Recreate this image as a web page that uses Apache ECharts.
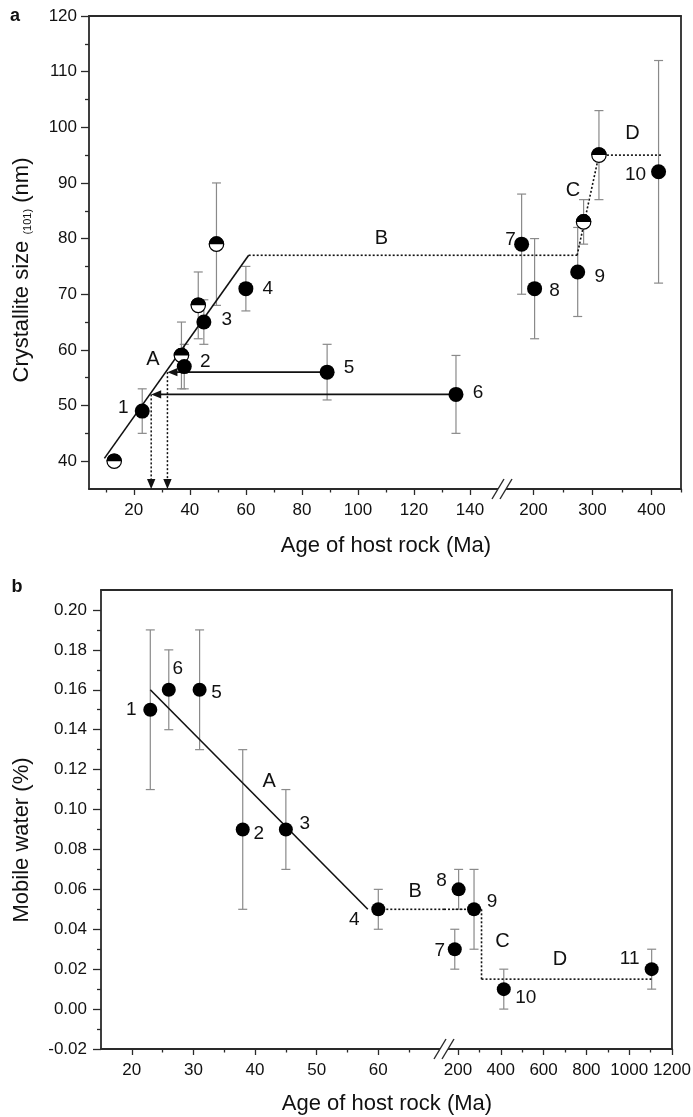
<!DOCTYPE html>
<html>
<head>
<meta charset="utf-8">
<script src="https://cdn.jsdelivr.net/npm/echarts@6/dist/echarts.min.js"></script>
<style>
html,body{margin:0;padding:0;background:#fff;}
#c{width:693px;height:1117px;}
</style>
</head>
<body>
<div id="c"></div>
<script>
// ---------------- Panel a : crystallite size ----------------
const aLabels = ['1', '2', '3', '4', '5', '6', '7', '8', '9', '10'];
const aAge    = [23, 38, 45, 60, 89, 135, 180, 202, 275, 412];
const aSize   = [49, 57, 65, 71, 56, 52, 79, 71, 74, 92];
const aErr    = [4, 4, 4, 4, 5, 7, 9, 9, 8, 20];
const aHalfAge  = [13, 37, 43, 49.5, 285, 311];
const aHalfSize = [40, 59, 68, 79, 83, 95];
const aHalfErr  = [0, 6, 6, 11, 4, 8];
const aTrendA = [[9.5, 40.5], [61, 77]];
const aTrendB = [[61, 77], [274, 77]];
const aTrendC = [[274, 77], [311, 95]];
const aTrendD = [[311, 95], [418, 95]];
const aArrowFrom = [[89, 56], [135, 52]];
const aArrowTip  = [[32, 56], [26.2, 52]];
const aDropTo    = [[32, 35], [26.2, 35]];
const aZoneNames = ['A', 'B', 'C', 'D'];
const aZoneAt    = [[26.8, 58.2], [108.4, 80], [267, 88.6], [367.7, 98.8]];
const aYTicks  = [40, 50, 60, 70, 80, 90, 100, 110, 120];
const aYMinor  = [45, 55, 65, 75, 85, 95, 105, 115];
const aXTicksL = [20, 40, 60, 80, 100, 120, 140];
const aXMinorL = [10, 30, 50, 70, 90, 110, 130];
const aXTicksR = [200, 300, 400];
const aXMinorR = [250, 350, 450];

// ---------------- Panel b : mobile water ----------------
const bLabels = ['1', '6', '5', '2', '3', '4', '7', '8', '9', '10', '11'];
const bAge    = [23, 26, 31, 38, 45, 60, 185, 203, 275, 414, 1105];
const bWater  = [0.15, 0.16, 0.16, 0.09, 0.09, 0.05, 0.03, 0.06, 0.05, 0.01, 0.02];
const bErr    = [0.04, 0.02, 0.03, 0.04, 0.02, 0.01, 0.01, 0.01, 0.02, 0.01, 0.01];
const bTrendA = [[23, 0.16], [58.3, 0.05]];
const bTrendB = [[60, 0.05], [310, 0.05]];
const bTrendC = [[310, 0.05], [310, 0.015]];
const bTrendD = [[310, 0.015], [1104, 0.015]];
const bZoneNames = ['A', 'B', 'C', 'D'];
const bZoneAt    = [[42.3, 0.114], [66, 0.059], [408, 0.034], [676.6, 0.025]];
const bYTicks  = [-0.02, 0, 0.02, 0.04, 0.06, 0.08, 0.10, 0.12, 0.14, 0.16, 0.18, 0.20];
const bYMinor  = [-0.01, 0.01, 0.03, 0.05, 0.07, 0.09, 0.11, 0.13, 0.15, 0.17, 0.19];
const bXTicksL = [20, 30, 40, 50, 60];
const bXMinorL = [25, 35, 45, 55, 65];
const bXTicksR = [200, 400, 600, 800, 1000, 1200];
const bXMinorR = [300, 500, 700, 900, 1100];

// ---------------- styling ----------------
const FONT = 'Liberation Sans, Arial, Helvetica, sans-serif';
const INK = '#111111';
const FRAME = '#2a2a2a';
const ERRC = '#8a8a8a';

const aOffs = {'1': [-19, -3], '2': [21, -5], '3': [23, -2], '4': [22, 0], '5': [22, -4], '6': [22, -2],
               '7': [-11, -4], '8': [20, 2], '9': [22, 5], '10': [-23, 3]};
const bOffs = {'1': [-19, 0], '6': [9, -21], '5': [17, 3], '2': [16, 4], '3': [19, -6], '4': [-24, 10],
               '7': [-15, 2], '8': [-17, -9], '9': [18, -8], '10': [22, 9], '11': [-22, -10]};

const grids = [
  {left: 89,  top: 16,  width: 409, height: 473},
  {left: 498, top: 16,  width: 183, height: 473},
  {left: 101, top: 590, width: 342, height: 459},
  {left: 443, top: 590, width: 229, height: 459}
];

const panels = [
  {
    ages: aAge, vals: aSize, errs: aErr, labels: aLabels, offs: aOffs,
    halfAges: aHalfAge, halfVals: aHalfSize, halfErrs: aHalfErr,
    trends: [{pts: aTrendA, dotted: false}, {pts: aTrendB, dotted: true},
             {pts: aTrendC, dotted: true}, {pts: aTrendD, dotted: true}],
    arrows: aArrowFrom.map((f, i) => [f[0], f[1], aArrowTip[i][0], aArrowTip[i][1], 0])
      .concat(aArrowTip.map((t, i) => [t[0], t[1], aDropTo[i][0], aDropTo[i][1], 1])),
    zones: aZoneNames, zoneAt: aZoneAt,
    yMin: 35, yMax: 120, yTicks: aYTicks, yMinor: aYMinor, yMargin: 12,
    yFmt: v => String(v), dot: 15,
    segs: [
      {grid: 0, min: 4, max: 150, ticks: aXTicksL, minor: aXMinorL},
      {grid: 1, min: 140, max: 450, ticks: aXTicksR, minor: aXMinorR}
    ]
  },
  {
    ages: bAge, vals: bWater, errs: bErr, labels: bLabels, offs: bOffs,
    halfAges: [], halfVals: [], halfErrs: [],
    trends: [{pts: bTrendA, dotted: false}, {pts: bTrendB, dotted: true},
             {pts: bTrendC, dotted: true}, {pts: bTrendD, dotted: true}],
    arrows: [],
    zones: bZoneNames, zoneAt: bZoneAt,
    yMin: -0.02, yMax: 0.21, yTicks: bYTicks, yMinor: bYMinor, yMargin: 14,
    yFmt: v => Number(v).toFixed(2), dot: 14,
    segs: [
      {grid: 2, min: 15, max: 70.5, ticks: bXTicksL, minor: bXMinorL},
      {grid: 3, min: 130, max: 1200, ticks: bXTicksR, minor: bXMinorR}
    ]
  }
];

function errRender(params, api) {
  const x = api.value(0), lo = api.value(1), hi = api.value(2);
  const p1 = api.coord([x, hi]), p2 = api.coord([x, lo]);
  const w = 4.5;
  const st = {stroke: ERRC, lineWidth: 1.2, fill: null};
  return {type: 'group', children: [
    {type: 'line', shape: {x1: p1[0], y1: p1[1], x2: p2[0], y2: p2[1]}, style: st},
    {type: 'line', shape: {x1: p1[0] - w, y1: p1[1], x2: p1[0] + w, y2: p1[1]}, style: st},
    {type: 'line', shape: {x1: p2[0] - w, y1: p2[1], x2: p2[0] + w, y2: p2[1]}, style: st}
  ]};
}

function halfRender(params, api) {
  const p = api.coord([api.value(0), api.value(1)]);
  const r = 7.2;
  return {type: 'group', children: [
    {type: 'circle', shape: {cx: p[0], cy: p[1], r: r}, style: {fill: '#fff', stroke: '#000', lineWidth: 1.2}},
    {type: 'sector', shape: {cx: p[0], cy: p[1], r0: 0, r: r + 0.6, startAngle: Math.PI, endAngle: 2 * Math.PI, clockwise: true},
     style: {fill: '#000'}}
  ]};
}

function arrowRender(params, api) {
  const p1 = api.coord([api.value(0), api.value(1)]);
  const p2 = api.coord([api.value(2), api.value(3)]);
  const dotted = api.value(4) === 1;
  const dx = p2[0] - p1[0], dy = p2[1] - p1[1];
  const len = Math.sqrt(dx * dx + dy * dy) || 1;
  const ux = dx / len, uy = dy / len;
  const L = 10, W = 4.2;
  const bx = p2[0] - ux * L, by = p2[1] - uy * L;
  return {type: 'group', children: [
    {type: 'line', shape: {x1: p1[0], y1: p1[1], x2: bx + ux * 2, y2: by + uy * 2},
     style: {stroke: INK, lineWidth: dotted ? 1.5 : 1.6, lineDash: dotted ? [2, 2] : null, fill: null}},
    {type: 'polygon', shape: {points: [[p2[0], p2[1]], [bx - uy * W, by + ux * W], [bx + uy * W, by - ux * W]]},
     style: {fill: INK}}
  ]};
}

function buildOption() {
  const xAxis = [], yAxis = [], series = [];
  const lineSt = {color: FRAME, width: 1.8};
  const tickSt = {color: FRAME, width: 1.3};
  const lab = {fontSize: 17, fontFamily: FONT, color: INK, hideOverlap: false};

  panels.forEach(P => {
    P.segs.forEach((S, si) => {
      const g = S.grid;
      const xi = xAxis.length;
      xAxis.push({type: 'value', gridIndex: g, position: 'bottom', min: S.min, max: S.max,
        axisLine: {show: true, onZero: false, lineStyle: lineSt},
        axisTick: {show: true, inside: false, length: 6, customValues: S.ticks, lineStyle: tickSt},
        axisLabel: Object.assign({show: true, customValues: S.ticks, margin: 13, formatter: v => String(v)}, lab),
        splitLine: {show: false}});
      xAxis.push({type: 'value', gridIndex: g, position: 'bottom', min: S.min, max: S.max,
        axisLine: {show: false, onZero: false},
        axisTick: {show: true, inside: false, length: 3.5, customValues: S.minor, lineStyle: tickSt},
        axisLabel: {show: false}, splitLine: {show: false}});
      xAxis.push({type: 'value', gridIndex: g, position: 'top', min: S.min, max: S.max,
        axisLine: {show: true, onZero: false, lineStyle: lineSt},
        axisTick: {show: false}, axisLabel: {show: false}, splitLine: {show: false}});

      const yi = yAxis.length;
      if (si === 0) {
        yAxis.push({type: 'value', gridIndex: g, position: 'left', min: P.yMin, max: P.yMax,
          axisLine: {show: true, onZero: false, lineStyle: lineSt},
          axisTick: {show: true, inside: false, length: 8, customValues: P.yTicks, lineStyle: tickSt},
          axisLabel: Object.assign({show: true, customValues: P.yTicks, margin: P.yMargin, formatter: P.yFmt}, lab),
          splitLine: {show: false}});
        yAxis.push({type: 'value', gridIndex: g, position: 'left', min: P.yMin, max: P.yMax,
          axisLine: {show: false, onZero: false},
          axisTick: {show: true, inside: false, length: 4, customValues: P.yMinor, lineStyle: tickSt},
          axisLabel: {show: false}, splitLine: {show: false}});
      } else {
        yAxis.push({type: 'value', gridIndex: g, position: 'right', min: P.yMin, max: P.yMax,
          axisLine: {show: true, onZero: false, lineStyle: lineSt},
          axisTick: {show: false}, axisLabel: {show: false}, splitLine: {show: false}});
      }

      const inSeg = a => a >= S.min && a <= S.max;

      // error bars
      const errData = [];
      P.ages.forEach((a, i) => { if (inSeg(a) && P.errs[i] > 0) errData.push([a, P.vals[i] - P.errs[i], P.vals[i] + P.errs[i]]); });
      P.halfAges.forEach((a, i) => { if (inSeg(a) && P.halfErrs[i] > 0) errData.push([a, P.halfVals[i] - P.halfErrs[i], P.halfVals[i] + P.halfErrs[i]]); });
      series.push({type: 'custom', xAxisIndex: xi, yAxisIndex: yi, renderItem: errRender, data: errData,
        encode: {x: 0, y: [1, 2]}, z: 1, silent: true});

      // trend lines
      P.trends.forEach(T => {
        const xs = T.pts.map(p => p[0]);
        if (Math.max.apply(null, xs) < S.min || Math.min.apply(null, xs) > S.max) return;
        series.push({type: 'line', xAxisIndex: xi, yAxisIndex: yi, data: T.pts, symbol: 'none', clip: true,
          lineStyle: {color: INK, width: 1.6, type: T.dotted ? [2, 2] : 'solid'},
          z: 2, silent: true});
      });

      // arrows
      const arr = P.arrows.filter(r => inSeg(r[0]) && inSeg(r[2]));
      if (arr.length) {
        series.push({type: 'custom', xAxisIndex: xi, yAxisIndex: yi, renderItem: arrowRender, data: arr,
          encode: {x: [0, 2], y: [1, 3]}, z: 2, silent: true});
      }

      // filled points
      const pts = [];
      P.ages.forEach((a, i) => {
        if (!inSeg(a)) return;
        pts.push({value: [a, P.vals[i]], name: P.labels[i], label: {offset: P.offs[P.labels[i]]}});
      });
      series.push({type: 'scatter', xAxisIndex: xi, yAxisIndex: yi, data: pts, symbol: 'circle',
        symbolSize: P.dot, itemStyle: {color: '#000', opacity: 1},
        label: {show: true, position: 'inside', formatter: '{b}', fontSize: 19, fontFamily: FONT, color: INK,
                opacity: 1, textBorderWidth: 0},
        z: 3, silent: true});

      // half-filled points
      const hp = [];
      P.halfAges.forEach((a, i) => { if (inSeg(a)) hp.push([a, P.halfVals[i]]); });
      if (hp.length) {
        series.push({type: 'custom', xAxisIndex: xi, yAxisIndex: yi, renderItem: halfRender, data: hp,
          encode: {x: 0, y: 1}, z: 3, silent: true});
      }

      // zone letters
      const zd = [];
      P.zones.forEach((n, i) => { if (inSeg(P.zoneAt[i][0])) zd.push({value: P.zoneAt[i], name: n}); });
      if (zd.length) {
        series.push({type: 'scatter', xAxisIndex: xi, yAxisIndex: yi, data: zd, symbol: 'circle', symbolSize: 1,
          itemStyle: {color: 'rgba(0,0,0,0)', opacity: 1},
          label: {show: true, position: 'inside', formatter: '{b}', fontSize: 20, fontFamily: FONT, color: INK,
                  opacity: 1, textBorderWidth: 0},
          z: 4, silent: true});
      }
    });
  });

  function breakMark(cx, cy) {
    return [
      {type: 'polygon', z: 100, shape: {points: [[cx - 10, cy + 10], [cx + 2, cy - 10], [cx + 10, cy - 10], [cx - 2, cy + 10]]},
       style: {fill: '#fff'}},
      {type: 'line', z: 101, shape: {x1: cx - 10, y1: cy + 10, x2: cx + 2, y2: cy - 10}, style: {stroke: FRAME, lineWidth: 1.4}},
      {type: 'line', z: 101, shape: {x1: cx - 2, y1: cy + 10, x2: cx + 10, y2: cy - 10}, style: {stroke: FRAME, lineWidth: 1.4}}
    ];
  }

  const graphics = [
    {type: 'text', z: 100, x: 15, y: 16, style: {text: 'a', font: 'bold 18px ' + FONT, fill: INK, align: 'center', verticalAlign: 'middle'}},
    {type: 'text', z: 100, x: 17, y: 587, style: {text: 'b', font: 'bold 18px ' + FONT, fill: INK, align: 'center', verticalAlign: 'middle'}},
    {type: 'text', z: 100, x: 386, y: 546, style: {text: 'Age of host rock (Ma)', font: '22px ' + FONT, fill: INK, align: 'center', verticalAlign: 'middle'}},
    {type: 'text', z: 100, x: 387, y: 1104, style: {text: 'Age of host rock (Ma)', font: '22px ' + FONT, fill: INK, align: 'center', verticalAlign: 'middle'}},
    {type: 'text', z: 100, x: 22, y: 270, rotation: Math.PI / 2,
     style: {text: '{m|Crystallite size }{s|(101)}{m| (nm)}', align: 'center', verticalAlign: 'middle',
       rich: {m: {fontSize: 22, fontFamily: FONT, fill: INK}, s: {fontSize: 11, fontFamily: FONT, fill: INK, verticalAlign: 'bottom'}}}},
    {type: 'text', z: 100, x: 22, y: 840, rotation: Math.PI / 2,
     style: {text: 'Mobile water (%)', font: '22px ' + FONT, fill: INK, align: 'center', verticalAlign: 'middle'}}
  ].concat(breakMark(502, 489), breakMark(444, 1049));

  return {
    animation: false,
    backgroundColor: '#fff',
    grid: grids.map(g => Object.assign({containLabel: false, outerBoundsMode: 'none'}, g)),
    xAxis: xAxis,
    yAxis: yAxis,
    series: series,
    graphic: {elements: graphics}
  };
}

const chart = echarts.init(document.getElementById('c'), null, {renderer: 'canvas'});
chart.setOption(buildOption());
</script>
</body>
</html>
